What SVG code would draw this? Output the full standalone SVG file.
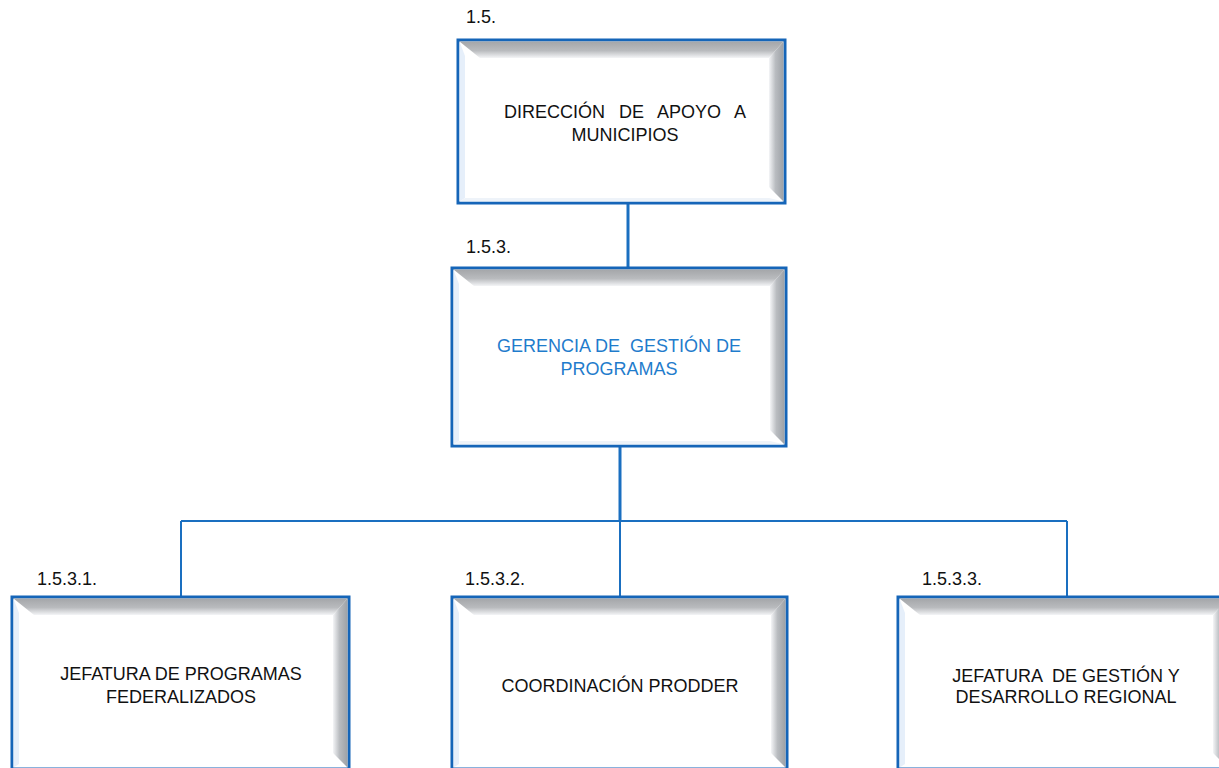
<svg xmlns="http://www.w3.org/2000/svg" width="1219" height="768" viewBox="0 0 1219 768">
<defs>
<linearGradient id="gTop" x1="0" y1="0" x2="0" y2="1">
<stop offset="0" stop-color="#a4a6a9"/>
<stop offset="0.55" stop-color="#b9bbbe"/>
<stop offset="1" stop-color="#f4f5f7"/>
</linearGradient>
<linearGradient id="gRight" x1="0" y1="0" x2="1" y2="0">
<stop offset="0" stop-color="#f4f5f7"/>
<stop offset="0.45" stop-color="#b9bcc0"/>
<stop offset="1" stop-color="#9da1a6"/>
</linearGradient>
<style>
.box{fill:#ffffff;stroke:#1565b8;stroke-width:3}
.bt{fill:url(#gTop)}
.br{fill:url(#gRight)}
.bl{fill:#e6effa}
.bb{fill:#eef3f9}
.conn{stroke:#1a6fc0;stroke-width:3;fill:none}
.bus{stroke:#1a6fc0;stroke-width:2;fill:none}
text{font-family:"Liberation Sans",Arial,Helvetica,sans-serif;font-size:18px;fill:#111111}
.c{text-anchor:middle}
.blue{fill:#1f7ccc}
</style>
</defs>
<g id="connectors">
<line class="conn" x1="628" y1="203" x2="628" y2="268"/>
<line class="conn" x1="620" y1="446" x2="620" y2="521"/>
<line class="bus" x1="181" y1="521" x2="1067" y2="521"/>
<line class="bus" x1="181" y1="521" x2="181" y2="597"/>
<line class="bus" x1="620" y1="521" x2="620" y2="597"/>
<line class="bus" x1="1067" y1="521" x2="1067" y2="597"/>
</g>
<g id="n1">
<text x="466" y="23">1.5.</text>
<rect class="box" x="458" y="40" width="327" height="163"/>
<polygon class="bt" points="459.5,41.5 783.5,41.5 769,58 480,58"/>
<polygon class="br" points="783.5,41.5 783.5,201.5 769,187 769,58"/>
<polygon class="bl" points="459.5,41.5 465,56 465,198 459.5,201.5"/>
<polygon class="bb" points="459.5,201.5 465,198 769,198 783.5,201.5"/>
<text class="c" x="625" y="118" word-spacing="9">DIRECCIÓN DE APOYO A</text>
<text class="c" x="625" y="141">MUNICIPIOS</text>
</g>
<g id="n2">
<text x="466" y="253">1.5.3.</text>
<rect class="box" x="452" y="268" width="334" height="178"/>
<polygon class="bt" points="453.5,269.5 784.5,269.5 770,286 474,286"/>
<polygon class="br" points="784.5,269.5 784.5,444.5 770,430 770,286"/>
<polygon class="bl" points="453.5,269.5 459,284 459,441 453.5,444.5"/>
<polygon class="bb" points="453.5,444.5 459,441 770,441 784.5,444.5"/>
<text class="c blue" x="619" y="352" xml:space="preserve">GERENCIA DE  GESTIÓN DE</text>
<text class="c blue" x="619" y="375">PROGRAMAS</text>
</g>
<g id="n3">
<text x="37" y="585">1.5.3.1.</text>
<rect class="box" x="12" y="597" width="337" height="172"/>
<polygon class="bt" points="13.5,598.5 347.5,598.5 333,615 34,615"/>
<polygon class="br" points="347.5,598.5 347.5,767.5 333,753 333,615"/>
<polygon class="bl" points="13.5,598.5 19,613 19,764 13.5,767.5"/>
<text class="c" x="181" y="680">JEFATURA DE PROGRAMAS</text>
<text class="c" x="181" y="703">FEDERALIZADOS</text>
</g>
<g id="n4">
<text x="465" y="585">1.5.3.2.</text>
<rect class="box" x="452" y="597" width="335" height="172"/>
<polygon class="bt" points="453.5,598.5 785.5,598.5 771,615 474,615"/>
<polygon class="br" points="785.5,598.5 785.5,767.5 771,753 771,615"/>
<polygon class="bl" points="453.5,598.5 459,613 459,764 453.5,767.5"/>
<text class="c" x="620" y="692">COORDINACIÓN PRODDER</text>
</g>
<g id="n5">
<text x="922" y="585">1.5.3.3.</text>
<rect class="box" x="898" y="597" width="331" height="172"/>
<polygon class="bt" points="899.5,598.5 1227.5,598.5 1213,615 920,615"/>
<polygon class="br" points="1227.5,598.5 1227.5,767.5 1213,753 1213,615"/>
<polygon class="bl" points="899.5,598.5 905,613 905,764 899.5,767.5"/>
<text class="c" x="1066" y="682" xml:space="preserve">JEFATURA  DE GESTIÓN Y</text>
<text class="c" x="1066" y="703">DESARROLLO REGIONAL</text>
</g>
</svg>
